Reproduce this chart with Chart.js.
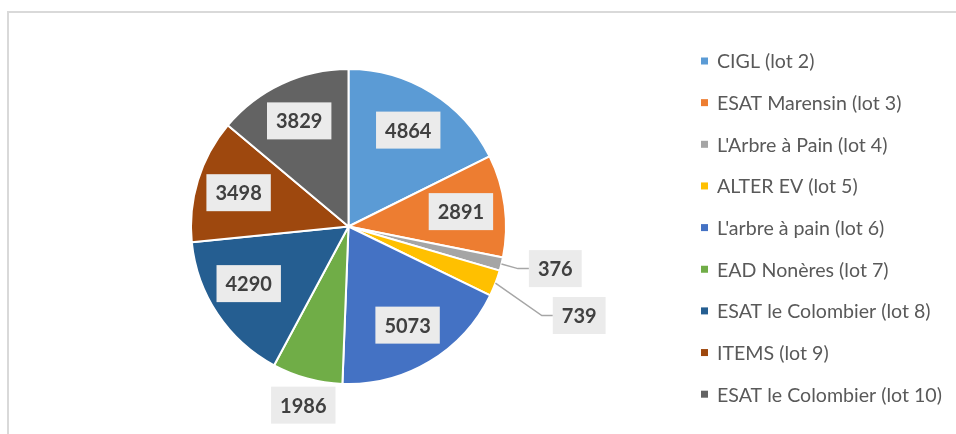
<!DOCTYPE html>
<html>
<head>
<meta charset="utf-8">
<script src="https://cdn.jsdelivr.net/npm/chart.js@4.4.1/dist/chart.umd.min.js"></script>
<style>
  body { margin: 0; background: #fff; }
  #wrap { position: relative; width: 956px; height: 434px; }
  #frame { position: absolute; left: 7px; top: 11px; width: 980px; height: 460px;
           border: 2px solid #d9d9d9; box-sizing: border-box; }
  canvas { position: absolute; left: 0; top: 0; }
</style>
</head>
<body>
<div id="wrap">
  <div id="frame"></div>
  <canvas id="pieChart" width="956" height="434"></canvas>
</div>
<script>
const lots = [
    'CIGL (lot 2)',
    'ESAT Marensin (lot 3)',
    "L'Arbre à Pain (lot 4)",
    'ALTER EV (lot 5)',
    "L'arbre à pain (lot 6)",
    'EAD Nonères (lot 7)',
    'ESAT le Colombier (lot 8)',
    'ITEMS (lot 9)',
    'ESAT le Colombier (lot 10)'
];
const counts = [4864, 2891, 376, 739, 5073, 1986, 4290, 3498, 3829];
const sliceColors = ['#5B9BD5', '#ED7D31', '#A5A5A5', '#FFC000', '#4472C4', '#70AD47', '#255E91', '#9E480E', '#636363'];

// where each value label sits: radius factor, angle shift (deg), leader line or not
const labelPlacement = [
    { r: 0.72, da: 0 },
    { r: 0.72, da: 0 },
    { r: 1.34, da: -2.3, leader: true },
    { r: 1.57, da: 0, leader: true },
    { r: 0.73, da: 0 },
    { r: 1.17, da: -1 },
    { r: 0.73, da: 4 },
    { r: 0.73, da: 0 },
    { r: 0.74, da: 0 }
];

// Plugin: grey boxed value labels
const valueLabels = {
    id: 'valueLabels',
    afterDatasetsDraw(chart) {
        const ctx = chart.ctx;
        const meta = chart.getDatasetMeta(0);
        const values = chart.data.datasets[0].data;
        ctx.save();
        ctx.font = 'bold 20px Lato';
        ctx.textAlign = 'center';
        ctx.textBaseline = 'middle';
        meta.data.forEach((arc, i) => {
            const p = labelPlacement[i];
            const R = arc.outerRadius;
            const mid = (arc.startAngle + arc.endAngle) / 2;
            const a = mid + p.da * Math.PI / 180;
            const cx = arc.x + Math.cos(a) * R * p.r;
            const cy = arc.y + Math.sin(a) * R * p.r;
            const text = String(values[i]);
            const w = ctx.measureText(text).width + 18;
            const h = 37;
            if (p.leader) {
                const sx = arc.x + Math.cos(mid) * R;
                const sy = arc.y + Math.sin(mid) * R;
                ctx.strokeStyle = '#A6A6A6';
                ctx.lineWidth = 1.5;
                ctx.beginPath();
                ctx.moveTo(sx, sy);
                ctx.lineTo(cx - w / 2 - 11, cy);
                ctx.lineTo(cx - w / 2, cy);
                ctx.stroke();
            }
            ctx.fillStyle = '#EBEBEB';
            ctx.fillRect(cx - w / 2, cy - h / 2, w, h);
            ctx.fillStyle = '#404040';
            ctx.fillText(text, cx, cy + 1);
        });
        ctx.restore();
    }
};

// Plugin: legend on the right
const sideLegend = {
    id: 'sideLegend',
    afterDraw(chart) {
        const ctx = chart.ctx;
        const colors = chart.data.datasets[0].backgroundColor;
        ctx.save();
        ctx.font = '19.6px Lato';
        ctx.textAlign = 'left';
        ctx.textBaseline = 'middle';
        chart.data.labels.forEach((label, i) => {
            const y = 61 + i * 41.65;
            ctx.fillStyle = colors[i];
            ctx.fillRect(701, y - 3.5, 7, 7);
            ctx.fillStyle = '#595959';
            ctx.fillText(label, 717, y + 1);
        });
        ctx.restore();
    }
};

const ctx = document.getElementById('pieChart').getContext('2d');
new Chart(ctx, {
    type: 'pie',
    data: {
        labels: lots,
        datasets: [{
            data: counts,
            backgroundColor: sliceColors,
            borderColor: '#ffffff',
            borderWidth: 2
        }]
    },
    options: {
        responsive: false,
        animation: false,
        layout: { padding: { left: 190, right: 449, top: 68, bottom: 49 } },
        plugins: {
            legend: { display: false },
            tooltip: { enabled: false }
        }
    },
    plugins: [valueLabels, sideLegend]
});
</script>
</body>
</html>
